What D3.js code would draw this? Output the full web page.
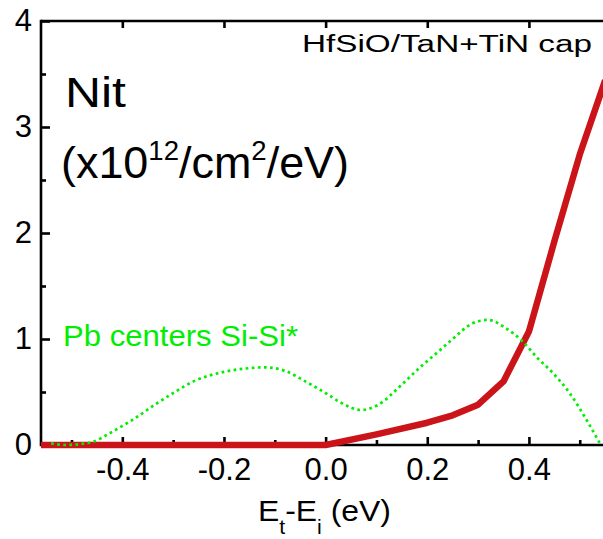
<!DOCTYPE html>
<html><head><meta charset="utf-8">
<script src="https://cdn.jsdelivr.net/npm/d3@7"></script>
<style>html,body{margin:0;padding:0;background:#fff;overflow:hidden}</style>
</head><body>
<svg id="c" width="603" height="539"></svg>
<script>
// ---- data ----
const xMajorTicks = [-0.4, -0.2, 0.0, 0.2, 0.4];
const xMinorTicks = [-0.5, -0.3, -0.1, 0.1, 0.3, 0.5];
const yMajorTicks = [0, 1, 2, 3, 4];
const yMinorTicks = [0.5, 1.5, 2.5, 3.5];

const nitE   = [-0.56, 0.0, 0.1, 0.2, 0.25, 0.3, 0.35, 0.4, 0.45, 0.5, 0.55];
const nitVal = [0, 0, 0.10, 0.21, 0.28, 0.38, 0.60, 1.07, 1.92, 2.74, 3.44];

const pbE   = [-0.54, -0.51, -0.48, -0.458, -0.425, -0.4, -0.379, -0.333, -0.3, -0.26, -0.2, -0.15, -0.12, -0.08, -0.04, 0.0, 0.03, 0.07, 0.1, 0.15, 0.185, 0.218, 0.25, 0.29, 0.32, 0.355, 0.388, 0.415, 0.447, 0.48, 0.513, 0.539];
const pbVal = [0.015, 0.0, 0.01, 0.03, 0.11, 0.18, 0.24, 0.39, 0.49, 0.60, 0.69, 0.725, 0.733, 0.70, 0.60, 0.49, 0.40, 0.33, 0.37, 0.57, 0.73, 0.865, 1.0, 1.15, 1.18, 1.10, 0.975, 0.83, 0.68, 0.49, 0.24, 0.02];

// ---- layout ----
const svg = d3.select("#c");
const FONT = "'Liberation Sans', Arial, sans-serif";
const L = 41, T = 21, B = 445;
const x = d3.scaleLinear().domain([-0.56, 0.56]).range([L, L + 1.12 * 508.25]);
const y = d3.scaleLinear().domain([0, 4]).range([B, T]);

function styleAxis(g) {
  g.select(".domain").remove();
  g.selectAll(".tick line").attr("stroke", "#000").attr("stroke-width", 2.6);
  g.selectAll(".tick text").attr("font-family", FONT).attr("font-size", 31).attr("fill", "#000");
}

// bottom axis
svg.append("g").attr("transform", `translate(0,${B})`)
  .call(d3.axisBottom(x).tickValues(xMajorTicks).tickSizeInner(-8).tickSizeOuter(0).tickPadding(13)
    .tickFormat(d3.format(".1f")))
  .call(styleAxis)
  .call(g => g.selectAll(".tick text").text(d => d3.format(".1f")(d).replace("−", "-")));
svg.append("g").attr("transform", `translate(0,${B})`)
  .call(d3.axisBottom(x).tickValues(xMinorTicks).tickSizeInner(-5).tickSizeOuter(0).tickFormat(""))
  .call(styleAxis);
// top axis
svg.append("g").attr("transform", `translate(0,${T})`)
  .call(d3.axisTop(x).tickValues(xMajorTicks).tickSizeInner(-7).tickSizeOuter(0).tickFormat(""))
  .call(styleAxis);
// left axis
svg.append("g").attr("transform", `translate(${L},0)`)
  .call(d3.axisLeft(y).tickValues(yMajorTicks).tickSizeInner(-9).tickSizeOuter(0).tickPadding(9)
    .tickFormat(d3.format("d")))
  .call(styleAxis);
svg.append("g").attr("transform", `translate(${L},0)`)
  .call(d3.axisLeft(y).tickValues(yMinorTicks).tickSizeInner(-5).tickSizeOuter(0).tickFormat(""))
  .call(styleAxis);

// frame lines
svg.append("line").attr("x1", L).attr("x2", L).attr("y1", T - 1.3).attr("y2", B + 1.3)
  .attr("stroke", "#000").attr("stroke-width", 2.6);
svg.append("line").attr("x1", L).attr("x2", 603).attr("y1", T).attr("y2", T)
  .attr("stroke", "#000").attr("stroke-width", 2.6);
svg.append("line").attr("x1", L).attr("x2", 603).attr("y1", B).attr("y2", B)
  .attr("stroke", "#000").attr("stroke-width", 2.6);

// red Nit line
const nitData = nitE.map((e, i) => [e, nitVal[i]]);
svg.append("path").datum(nitData)
  .attr("d", d3.line().x(d => x(d[0])).y(d => y(d[1])).curve(d3.curveLinear))
  .attr("fill", "none").attr("stroke", "#cb1419").attr("stroke-width", 6.5)
  .attr("stroke-linejoin", "round");

// green dotted Pb line
const pbData = pbE.map((e, i) => [e, pbVal[i]]);
svg.append("path").datum(pbData)
  .attr("d", d3.line().x(d => x(d[0])).y(d => y(d[1])).curve(d3.curveMonotoneX))
  .attr("fill", "none").attr("stroke", "#00ee00").attr("stroke-width", 2.7)
  .attr("stroke-dasharray", "2.7,3.4");

// texts
svg.append("text").attr("x", 65).attr("y", 106.7).attr("font-family", FONT).attr("font-size", 42)
  .attr("textLength", 61).attr("lengthAdjust", "spacingAndGlyphs").text("Nit");

const u = svg.append("text").attr("x", 61).attr("y", 178.3).attr("font-family", FONT).attr("font-size", 44)
  .attr("textLength", 288).attr("lengthAdjust", "spacingAndGlyphs");
u.append("tspan").text("(x10");
u.append("tspan").attr("font-size", 27).attr("dy", -18).text("12");
u.append("tspan").attr("dy", 18).text("/cm");
u.append("tspan").attr("font-size", 27).attr("dy", -18).text("2");
u.append("tspan").attr("dy", 18).text("/eV)");

svg.append("text").attr("x", 302).attr("y", 51.7).attr("font-family", FONT).attr("font-size", 23.5)
  .attr("textLength", 290).attr("lengthAdjust", "spacingAndGlyphs").text("HfSiO/TaN+TiN cap");

svg.append("text").attr("x", 63).attr("y", 345.7).attr("font-family", FONT).attr("font-size", 29)
  .attr("fill", "#00ee00")
  .attr("textLength", 235).attr("lengthAdjust", "spacingAndGlyphs").text("Pb centers Si-Si*");

const xt = svg.append("text").attr("x", 258).attr("y", 521).attr("font-family", FONT).attr("font-size", 30)
  .attr("textLength", 133).attr("lengthAdjust", "spacingAndGlyphs");
xt.append("tspan").text("E");
xt.append("tspan").attr("font-size", 20).attr("dy", 13).text("t");
xt.append("tspan").attr("dy", -13).text("-E");
xt.append("tspan").attr("font-size", 20).attr("dy", 13).text("i");
xt.append("tspan").attr("dy", -13).text(" (eV)");
</script>
</body></html>
